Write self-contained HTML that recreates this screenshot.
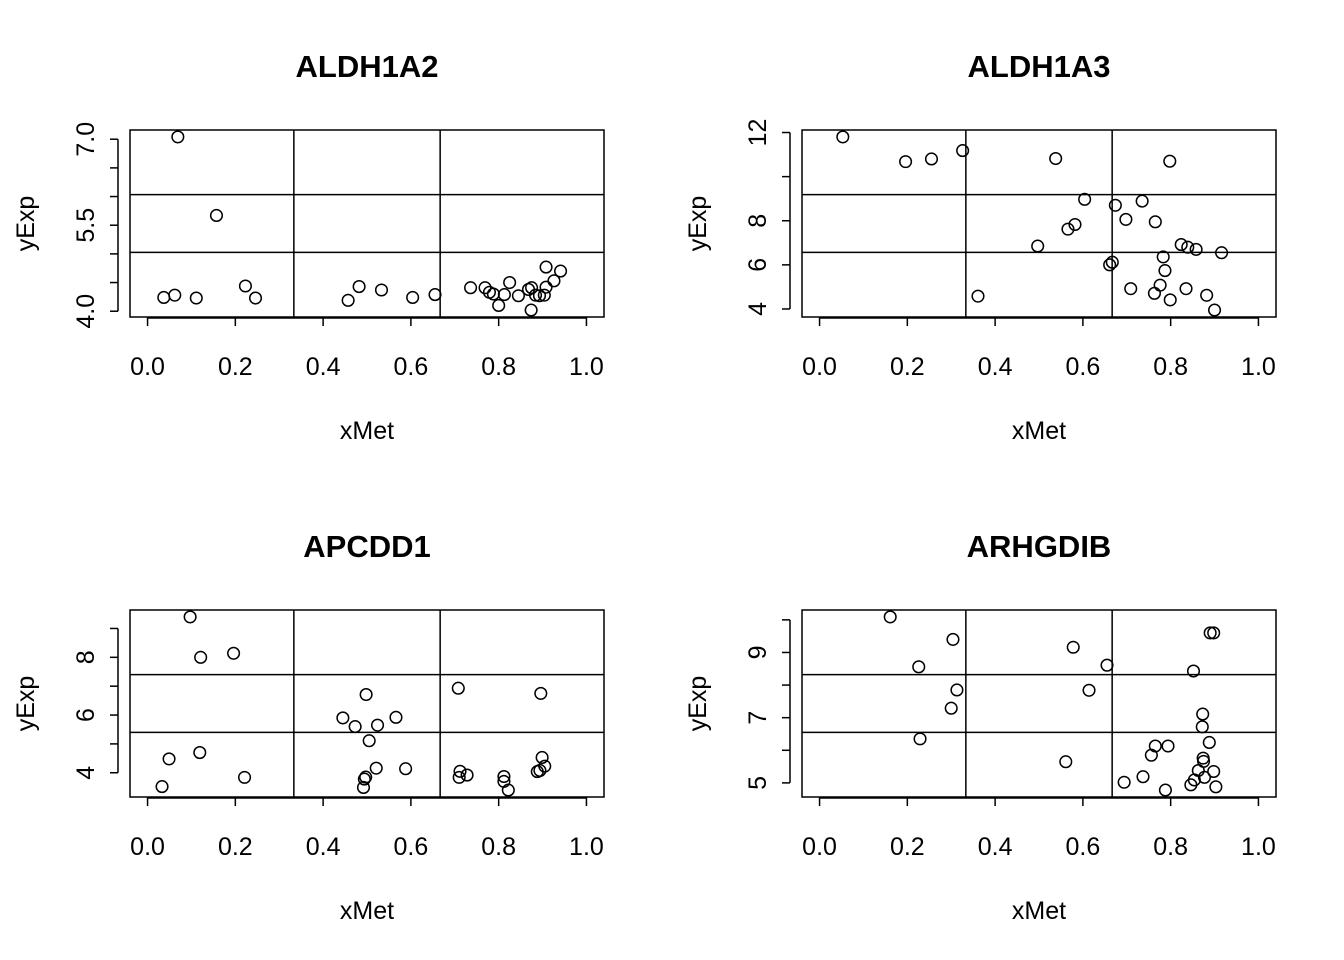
<!DOCTYPE html>
<html><head><meta charset="utf-8"><style>
html,body{margin:0;padding:0;background:#fff;}
svg{display:block;font-family:"Liberation Sans",Arial,sans-serif;}
</style></head><body>
<svg id="chart" width="1344" height="960" viewBox="0 0 1344 960"></svg>
<script>
const titles = ["ALDH1A2","ALDH1A3","APCDD1","ARHGDIB"];
const xTicks = [0,0.2,0.4,0.6,0.8,1.0];
const xTickLabels = ["0.0","0.2","0.4","0.6","0.8","1.0"];
const yTicks1 = [4.0,4.5,5.0,5.5,6.0,6.5,7.0];
const yTickLabels1 = ["4.0","","","5.5","","","7.0"];
const yTicks2 = [4,6,8,10,12];
const yTickLabels2 = ["4","6","8","","12"];
const yTicks3 = [4,5,6,7,8,9];
const yTickLabels3 = ["4","","6","","8",""];
const yTicks4 = [5,6,7,8,9,10];
const yTickLabels4 = ["5","","7","","9",""];
const x1 = [0.069,0.157,0.037,0.062,0.111,0.223,0.246,0.457,0.482,0.533,0.604,0.655,0.736,0.769,0.779,0.788,0.800,0.813,0.825,0.845,0.868,0.875,0.874,0.884,0.893,0.904,0.908,0.908,0.926,0.941];
const y1 = [7.04,5.67,4.24,4.28,4.23,4.44,4.23,4.19,4.43,4.37,4.24,4.29,4.41,4.41,4.33,4.30,4.10,4.29,4.50,4.27,4.38,4.41,4.02,4.28,4.27,4.28,4.42,4.77,4.53,4.70];
const x2 = [0.053,0.196,0.255,0.326,0.538,0.798,0.604,0.674,0.735,0.698,0.765,0.582,0.566,0.497,0.824,0.839,0.858,0.916,0.783,0.787,0.667,0.661,0.361,0.709,0.776,0.763,0.835,0.799,0.882,0.900];
const y2 = [11.80,10.68,10.80,11.18,10.82,10.70,8.97,8.70,8.89,8.06,7.95,7.83,7.62,6.85,6.92,6.80,6.70,6.55,6.36,5.74,6.12,6.00,4.58,4.92,5.08,4.71,4.92,4.41,4.62,3.95];
const x3 = [0.097,0.121,0.196,0.049,0.119,0.033,0.221,0.498,0.445,0.473,0.524,0.566,0.505,0.521,0.588,0.497,0.494,0.492,0.708,0.896,0.712,0.710,0.728,0.812,0.812,0.822,0.899,0.905,0.888,0.894];
const y3 = [9.40,8.00,8.14,4.48,4.70,3.52,3.84,6.71,5.90,5.60,5.65,5.92,5.11,4.16,4.14,3.85,3.78,3.49,6.93,6.75,4.05,3.84,3.92,3.87,3.70,3.40,4.53,4.23,4.04,4.08];
const x4 = [0.161,0.304,0.226,0.313,0.300,0.229,0.578,0.655,0.614,0.561,0.890,0.898,0.852,0.873,0.872,0.888,0.765,0.794,0.756,0.874,0.875,0.863,0.898,0.877,0.854,0.846,0.737,0.694,0.788,0.903];
const y4 = [10.09,9.40,8.56,7.85,7.29,6.35,9.16,8.61,7.84,5.65,9.60,9.60,8.43,7.11,6.72,6.24,6.13,6.13,5.85,5.76,5.66,5.38,5.35,5.17,5.09,4.94,5.19,5.02,4.78,4.88];

const panels = [
  {left:130,top:130,xs:x1,ys:y1,yt:yTicks1,yl:yTickLabels1},
  {left:802,top:130,xs:x2,ys:y2,yt:yTicks2,yl:yTickLabels2},
  {left:130,top:610,xs:x3,ys:y3,yt:yTicks3,yl:yTickLabels3},
  {left:802,top:610,xs:x4,ys:y4,yt:yTicks4,yl:yTickLabels4}
];
const W=474,H=187;
const svg=document.getElementById('chart');
const NS='http://www.w3.org/2000/svg';
function mk(tag,attrs,parent){const e=document.createElementNS(NS,tag);for(const k in attrs)e.setAttribute(k,attrs[k]);parent.appendChild(e);return e;}

panels.forEach((p,i)=>{
  const g=mk('g',{},svg);
  
  
  const xmin=0,xmax=1;
  const xr=xmax-xmin;
  const xlo=xmin-0.04*xr, xhi=xmax+0.04*xr;
  const ymin=Math.min(...p.ys), ymax=Math.max(...p.ys);
  const yr=ymax-ymin;
  const ylo=ymin-0.04*yr, yhi=ymax+0.04*yr;
  const sx=v=>p.left+(v-xlo)/(xhi-xlo)*W;
  const sy=v=>p.top+H-(v-ylo)/(yhi-ylo)*H;
  const t=mk('text',{x:p.left+W/2,y:p.top-53,'text-anchor':'middle','font-size':'31','font-weight':'bold'},g);
  t.textContent=titles[i];
  
  
  [1/3,2/3].forEach(f=>{
    const gx=mk('line',{x1:sx(xmin+f*xr),x2:sx(xmin+f*xr),y1:p.top,y2:p.top+H,stroke:'#000','stroke-width':1.5},g);
    
    
    const gy=mk('line',{x1:p.left,x2:p.left+W,y1:sy(ymin+f*yr),y2:sy(ymin+f*yr),stroke:'#000','stroke-width':1.5},g);
    
    
  });
  const b=mk('rect',{x:p.left,y:p.top,width:W,height:H,fill:'none',stroke:'#000','stroke-width':1.5},g);
  
  
  const xa=mk('g',{},g);
  
  
  mk('line',{x1:sx(xTicks[0]),x2:sx(xTicks[xTicks.length-1]),y1:p.top+H+1,y2:p.top+H+1,stroke:'#000','stroke-width':1.5},xa);
  xTicks.forEach((v,k)=>{
    mk('line',{x1:sx(v),x2:sx(v),y1:p.top+H,y2:p.top+H+9,stroke:'#000','stroke-width':1.5},xa);
    const tl=mk('text',{x:sx(v),y:p.top+H+58,'text-anchor':'middle','font-size':'25'},xa);
    tl.textContent=xTickLabels[k];
    
    
  });
  const xl=mk('text',{x:p.left+W/2,y:p.top+H+122,'text-anchor':'middle','font-size':'25'},g);
  xl.textContent='xMet';
  
  
  const ya=mk('g',{},g);
  
  
  mk('line',{x1:p.left-12,x2:p.left-12,y1:sy(p.yt[0]),y2:sy(p.yt[p.yt.length-1]),stroke:'#000','stroke-width':1.5},ya);
  p.yt.forEach((v,k)=>{
    mk('line',{x1:p.left-12,x2:p.left-20,y1:sy(v),y2:sy(v),stroke:'#000','stroke-width':1.5},ya);
    if(p.yl[k]){
      const tl=mk('text',{x:0,y:0,'text-anchor':'middle','font-size':'25',transform:`translate(${p.left-36},${sy(v)}) rotate(-90)`},ya);
      tl.textContent=p.yl[k];
      
      
    }
  });
  const yl=mk('text',{x:0,y:0,'text-anchor':'middle','font-size':'25',transform:`translate(${p.left-96},${p.top+H/2}) rotate(-90)`},g);
  yl.textContent='yExp';
  
  
  p.xs.forEach((v,k)=>{
    const c=mk('circle',{cx:sx(v),cy:sy(p.ys[k]),r:5.8,fill:'none',stroke:'#000','stroke-width':1.5},g);
    
    
  });
});
</script>
</body></html>
